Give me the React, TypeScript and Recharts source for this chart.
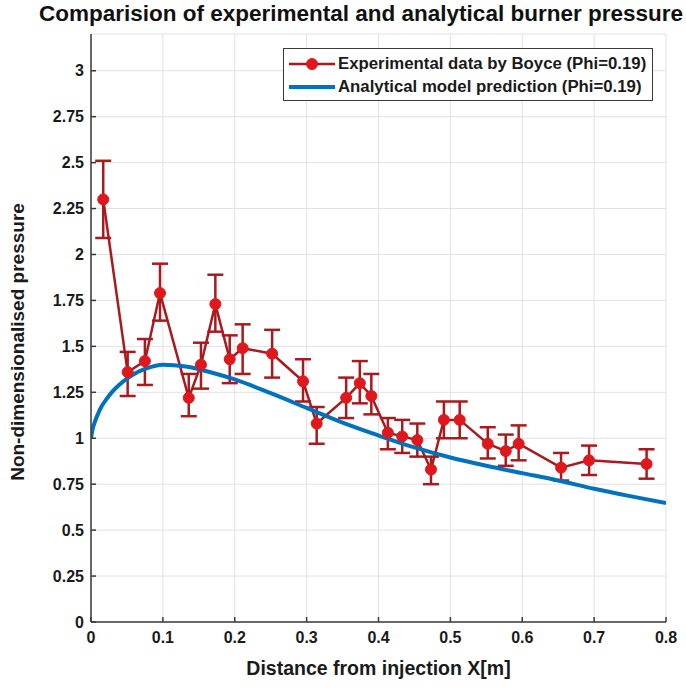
import React from 'react';
import { LineChart, Line, XAxis, YAxis, CartesianGrid, ErrorBar, Legend } from 'recharts';

// Experimental burner pressure (Boyce, Phi = 0.19) with error-bar limits
const expX = [0.017, 0.051, 0.075, 0.096, 0.136, 0.153, 0.173, 0.193, 0.211, 0.252, 0.295, 0.314, 0.355, 0.374, 0.39, 0.413, 0.433, 0.454, 0.473, 0.491, 0.513, 0.552, 0.577, 0.595, 0.654, 0.693, 0.773];
const expY = [2.3, 1.36, 1.42, 1.79, 1.22, 1.4, 1.73, 1.43, 1.49, 1.46, 1.31, 1.08, 1.22, 1.3, 1.23, 1.03, 1.01, 0.99, 0.83, 1.1, 1.1, 0.97, 0.93, 0.97, 0.84, 0.88, 0.86];
const expLow = [2.09, 1.23, 1.29, 1.64, 1.12, 1.27, 1.58, 1.3, 1.35, 1.33, 1.2, 0.97, 1.11, 1.19, 1.13, 0.94, 0.92, 0.9, 0.75, 1.0, 1.0, 0.89, 0.85, 0.88, 0.77, 0.8, 0.78];
const expHigh = [2.51, 1.47, 1.54, 1.95, 1.35, 1.52, 1.89, 1.56, 1.62, 1.59, 1.43, 1.17, 1.33, 1.42, 1.35, 1.11, 1.1, 1.08, 0.9, 1.2, 1.2, 1.06, 1.02, 1.07, 0.92, 0.96, 0.94];

// Analytical model prediction (Phi = 0.19)
const modelX = [0, 0.002, 0.005, 0.01, 0.015, 0.021, 0.03, 0.039, 0.05, 0.06, 0.077, 0.1, 0.132, 0.17, 0.2, 0.25, 0.3, 0.35, 0.4, 0.45, 0.5, 0.55, 0.6, 0.65, 0.7, 0.75, 0.8];
const modelY = [1.0, 1.045, 1.085, 1.135, 1.175, 1.21, 1.255, 1.29, 1.325, 1.35, 1.38, 1.4, 1.39, 1.355, 1.32, 1.245, 1.165, 1.085, 1.015, 0.95, 0.895, 0.85, 0.81, 0.77, 0.725, 0.685, 0.648];

const xTicks = [0, 0.1, 0.2, 0.3, 0.4, 0.5, 0.6, 0.7, 0.8];
const yTicks = [0, 0.25, 0.5, 0.75, 1, 1.25, 1.5, 1.75, 2, 2.25, 2.5, 2.75, 3];

const titleText = 'Comparision of experimental and analytical burner pressure';
const xLabel = 'Distance from injection X[m]';
const yLabel = 'Non-dimensionalised pressure';
const expName = 'Experimental data by Boyce (Phi=0.19)';
const modelName = 'Analytical model prediction (Phi=0.19)';

const expData = expX.map((x, i) => ({
  x,
  y: expY[i],
  err: [+(expY[i] - expLow[i]).toFixed(3), +(expHigh[i] - expY[i]).toFixed(3)],
}));
const modelData = modelX.map((x, i) => ({ x, y: modelY[i] }));

const FONT = '"Liberation Sans", Arial, Helvetica, sans-serif';
const AXIS = '#3a3a3a';
const RED_LINE = '#a81a1e';
const RED_DOT = '#e0171c';
const BLUE = '#0072BD';

const tickStyle = { fontFamily: FONT, fontSize: 16, fontWeight: 700, fill: '#1a1a1a' };

function LegendBox() {
  return (
    <div
      style={{
        width: 370,
        height: 53,
        border: `1.5px solid ${AXIS}`,
        background: '#fff',
        boxSizing: 'border-box',
        fontFamily: FONT,
        fontSize: 16.8,
        fontWeight: 700,
        color: '#1a1a1a',
        padding: '3px 0 0 5px',
      }}
    >
      <div style={{ display: 'flex', alignItems: 'center', height: 23 }}>
        <svg width={48} height={20} style={{ marginRight: 1 }}>
          <line x1={0} y1={10} x2={46} y2={10} stroke={RED_LINE} strokeWidth={2.5} />
          <circle cx={23} cy={10} r={5.5} fill={RED_DOT} stroke={RED_DOT} />
        </svg>
        <span>{expName}</span>
      </div>
      <div style={{ display: 'flex', alignItems: 'center', height: 23 }}>
        <svg width={48} height={20} style={{ marginRight: 1 }}>
          <line x1={0} y1={10} x2={46} y2={10} stroke={BLUE} strokeWidth={4} />
        </svg>
        <span>{modelName}</span>
      </div>
    </div>
  );
}

// Rotated y-axis title, placed left of the tick labels
function YTitle(props: any) {
  const vb = props.viewBox || { x: 0, y: 34, width: 91, height: 588 };
  const cx = 17;
  const cy = vb.y + vb.height / 2 + 14;
  return (
    <text
      x={cx}
      y={cy}
      transform={`rotate(-90, ${cx}, ${cy})`}
      textAnchor="middle"
      dominantBaseline="central"
      style={{ fontFamily: FONT, fontSize: 19, fontWeight: 700, fill: '#1a1a1a' }}
    >
      {yLabel}
    </text>
  );
}

export default function App() {
  return (
    <div style={{ position: 'absolute', left: 0, top: 0, width: 686, height: 688, background: '#fff' }}>
      <div
        style={{
          position: 'absolute',
          left: 0,
          width: 722,
          top: 1,
          textAlign: 'center',
          fontFamily: FONT,
          fontSize: 22.5,
          fontWeight: 700,
          color: '#111',
          whiteSpace: 'nowrap',
        }}
      >
        {titleText}
      </div>
      <LineChart width={686} height={688} margin={{ top: 34, right: 20, left: 0, bottom: 0 }}>
        <CartesianGrid stroke="#e2e2e2" strokeWidth={1} />
        <XAxis
          type="number"
          dataKey="x"
          domain={[0, 0.8]}
          ticks={xTicks}
          allowDataOverflow
          height={66}
          tickSize={-5}
          tickMargin={15}
          stroke={AXIS}
          strokeWidth={1.5}
          tick={tickStyle}
          tickFormatter={(v: number) => String(v)}
          label={{
            value: xLabel,
            position: 'insideBottom',
            offset: 13,
            style: { fontFamily: FONT, fontSize: 19.5, fontWeight: 700, fill: '#1a1a1a' },
          }}
        />
        <XAxis
          xAxisId="top"
          orientation="top"
          type="number"
          domain={[0, 0.8]}
          ticks={xTicks}
          allowDataOverflow
          height={0}
          tickSize={-5}
          stroke={AXIS}
          strokeWidth={1.5}
          tickFormatter={() => ''}
        />
        <YAxis
          type="number"
          domain={[0, 3.2]}
          ticks={yTicks}
          allowDataOverflow
          width={91}
          tickSize={-5}
          tickMargin={12}
          stroke={AXIS}
          strokeWidth={1.5}
          tick={tickStyle}
          tickFormatter={(v: number) => String(v)}
          label={{ content: <YTitle /> }}
        />
        <YAxis
          yAxisId="right"
          orientation="right"
          type="number"
          domain={[0, 3.2]}
          ticks={yTicks}
          allowDataOverflow
          width={0}
          tickSize={-5}
          stroke={AXIS}
          strokeWidth={1.5}
          tickFormatter={() => ''}
        />
        <Legend
          layout="vertical"
          align="center"
          verticalAlign="middle"
          wrapperStyle={{ left: 283, top: 48, width: 370 }}
          content={() => <LegendBox />}
        />
        <Line
          data={expData}
          dataKey="y"
          name={expName}
          type="linear"
          stroke={RED_LINE}
          strokeWidth={2.5}
          dot={{ r: 5.5, fill: RED_DOT, stroke: RED_DOT, strokeWidth: 1 }}
          activeDot={false}
          isAnimationActive={false}
        >
          <ErrorBar dataKey="err" direction="y" width={8} stroke={RED_LINE} strokeWidth={2.5} />
        </Line>
        <Line
          data={modelData}
          dataKey="y"
          name={modelName}
          type="monotone"
          stroke={BLUE}
          strokeWidth={4}
          dot={false}
          activeDot={false}
          isAnimationActive={false}
        />
      </LineChart>
    </div>
  );
}
